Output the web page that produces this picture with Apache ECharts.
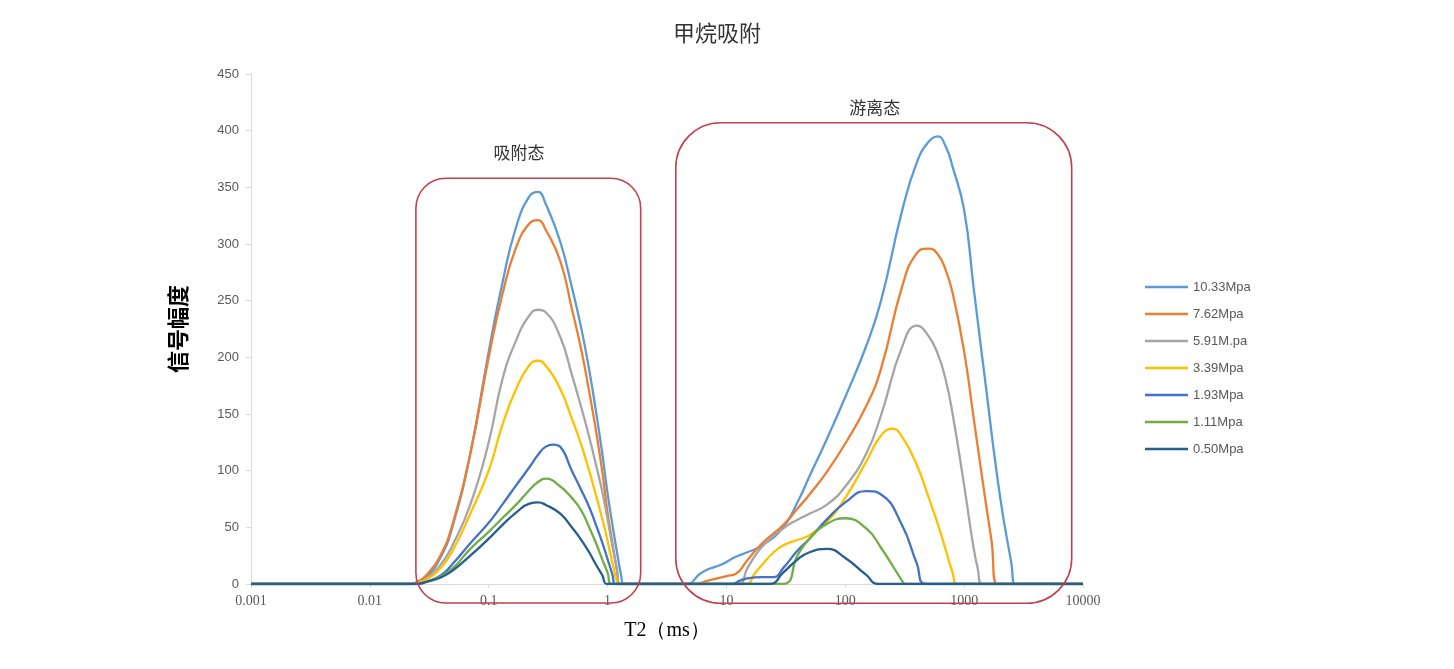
<!DOCTYPE html>
<html>
<head>
<meta charset="utf-8" />
<title>甲烷吸附</title>
<script src="https://cdn.jsdelivr.net/npm/echarts@6/dist/echarts.min.js"></script>
<style>
  html, body { margin: 0; padding: 0; background: #fff; }
  #chart { width: 1454px; height: 669px; }
</style>
</head>
<body>
<div id="chart"></div>
<script>
  // 图例名称（压力）
  const pressures = ['10.33Mpa', '7.62Mpa', '5.91M.pa', '3.39Mpa', '1.93Mpa', '1.11Mpa', '0.50Mpa'];
  const colors = ['#5B9BD5', '#ED7D31', '#A5A5A5', '#FFC000', '#4472C4', '#70AD47', '#255E91'];

  // 横轴刻度
  const xTicks = [0.001, 0.01, 0.1, 1, 10, 100, 1000, 10000];

  // 各压力下的 T2 谱 [T2(ms), 信号幅度]
  const p1033 = [
    [0.001, 0], [0.022, 0], [0.025, 1], [0.03, 6], [0.04, 25], [0.05, 52], [0.07, 115], [0.1, 205],
    [0.13, 265], [0.17, 315], [0.22, 342], [0.26, 346], [0.3, 336], [0.4, 302], [0.5, 262],
    [0.6, 226], [0.7, 189], [0.8, 152], [0.9, 116], [1.0, 80], [1.1, 52], [1.2, 28], [1.3, 8],
    [1.37, 0], [4.6, 0], [6, 9], [7, 13], [9, 17], [12, 24], [15, 28], [20, 34], [30, 50],
    [40, 73], [50, 95], [70, 128], [100, 165], [150, 210], [200, 250], [300, 329], [400, 372],
    [500, 390], [600, 395], [700, 386], [800, 368], [1000, 330], [1200, 262], [1500, 180],
    [2000, 78], [2500, 18], [2700, 0], [10000, 0]
  ];
  const p762 = [
    [0.001, 0], [0.021, 0], [0.025, 2], [0.03, 8], [0.04, 27], [0.05, 54], [0.07, 115], [0.1, 200],
    [0.13, 255], [0.17, 297], [0.22, 318], [0.26, 321], [0.3, 313], [0.4, 285], [0.5, 243],
    [0.6, 207], [0.7, 170], [0.8, 135], [0.9, 100], [1.0, 63], [1.1, 36], [1.2, 12], [1.27, 0],
    [5.3, 0], [7, 3], [10, 7], [12, 9], [15, 21], [20, 36], [30, 52], [40, 67], [50, 79],
    [70, 99], [100, 124], [150, 157], [200, 190], [300, 262], [400, 292], [500, 296], [600, 291],
    [700, 277], [800, 257], [1000, 205], [1200, 147], [1500, 76], [1700, 38], [1900, 0], [10000, 0]
  ];
  const p591 = [
    [0.001, 0], [0.022, 0], [0.025, 1], [0.03, 5], [0.04, 18], [0.05, 35], [0.07, 70], [0.1, 125],
    [0.13, 180], [0.17, 215], [0.22, 237], [0.26, 242], [0.3, 240], [0.4, 218], [0.5, 185],
    [0.6, 156], [0.7, 130], [0.8, 105], [0.9, 82], [1.0, 57], [1.1, 33], [1.2, 12], [1.24, 0],
    [12.5, 0], [15, 14], [20, 33], [30, 49], [40, 57], [50, 62], [70, 70], [100, 86], [150, 115],
    [200, 149], [300, 209], [400, 228], [500, 219], [600, 203], [700, 180], [800, 150],
    [1000, 87], [1200, 32], [1300, 14], [1420, 0], [10000, 0]
  ];
  const p339 = [
    [0.001, 0], [0.022, 0], [0.025, 1], [0.03, 4], [0.04, 15], [0.05, 30], [0.07, 62], [0.1, 100],
    [0.13, 140], [0.17, 172], [0.22, 193], [0.26, 197], [0.3, 193], [0.4, 172], [0.5, 146],
    [0.6, 123], [0.7, 100], [0.8, 78], [0.9, 58], [1.0, 38], [1.1, 18], [1.2, 2], [1.22, 0],
    [14.5, 0], [17.5, 10], [20, 17], [25, 28], [30, 34], [40, 39], [50, 43], [70, 55], [100, 76],
    [150, 108], [200, 131], [250, 137], [300, 130], [400, 105], [500, 77], [600, 53], [700, 30],
    [800, 10], [880, 0], [10000, 0]
  ];
  const p193 = [
    [0.001, 0], [0.025, 0], [0.03, 2], [0.04, 8], [0.05, 18], [0.07, 36], [0.1, 54], [0.13, 70],
    [0.17, 87], [0.22, 103], [0.26, 114], [0.3, 121], [0.35, 123], [0.4, 121], [0.5, 100],
    [0.6, 83], [0.7, 68], [0.8, 52], [0.9, 37], [1.0, 22], [1.1, 8], [1.16, 0],
    [11, 0], [13, 3], [15, 5], [20, 6], [25, 6], [30, 14], [40, 30], [50, 40], [70, 57],
    [100, 72], [150, 82], [200, 79], [300, 52], [400, 18], [480, 0], [10000, 0]
  ];
  const p111 = [
    [0.001, 0], [0.025, 0], [0.03, 2], [0.04, 7], [0.05, 14], [0.07, 31], [0.1, 46], [0.13, 58],
    [0.17, 70], [0.22, 83], [0.26, 90], [0.3, 93], [0.4, 86], [0.5, 76], [0.6, 65], [0.7, 50],
    [0.8, 36], [0.9, 22], [1.0, 10], [1.08, 0],
    [29, 0], [40, 26], [50, 40], [70, 53], [100, 58], [150, 49], [200, 32], [300, 3], [320, 0],
    [10000, 0]
  ];
  const p050 = [
    [0.001, 0], [0.025, 0], [0.03, 2], [0.04, 6], [0.05, 12], [0.07, 25], [0.1, 40], [0.13, 52],
    [0.17, 63], [0.22, 71], [0.26, 72], [0.3, 70], [0.4, 62], [0.5, 50], [0.6, 39], [0.7, 28],
    [0.8, 17], [0.9, 8], [1.0, 0],
    [23, 0], [30, 10], [40, 22], [50, 28], [70, 31], [100, 23], [150, 8], [190, 0], [10000, 0]
  ];
  const spectra = [p1033, p762, p591, p339, p193, p111, p050];

  // 标注框（数据坐标）
  const zones = [
    { x: [0.0244, 1.9], y: [-16.8, 358], r: 30, text: '吸附态', tx: 0.18, ty: 381 },
    { x: [3.75, 8035], y: [-17, 407], r: 45, text: '游离态', tx: 177, ty: 420 }
  ];

  const chart = echarts.init(document.getElementById('chart'));

  const option = {
    animation: false,
    backgroundColor: '#fff',
    color: colors,
    title: {
      text: '甲烷吸附',
      left: 712,
      top: 17,
      textAlign: 'center',
      textStyle: { fontFamily: 'Noto Sans CJK SC', fontSize: 22, fontWeight: 'normal', color: '#333' }
    },
    legend: {
      orient: 'vertical',
      left: 1140,
      top: 275,
      icon: 'rect',
      itemWidth: 43,
      itemHeight: 2.3,
      itemGap: 13,
      data: pressures,
      textStyle: { fontFamily: 'Liberation Sans', fontSize: 13, color: '#595959', lineHeight: 14, height: 14 }
    },
    grid: { left: 251, right: 371, top: 74, bottom: 85 },
    xAxis: {
      type: 'log',
      logBase: 10,
      min: xTicks[0],
      max: xTicks[xTicks.length - 1],
      name: 'T2（ms）',
      nameLocation: 'middle',
      nameGap: 37,
      nameTextStyle: { fontFamily: 'Liberation Serif', fontSize: 20, color: '#000' },
      axisLine: { lineStyle: { color: '#D9D9D9', width: 1 } },
      axisTick: { show: true, length: 4, lineStyle: { color: '#D9D9D9' } },
      axisLabel: {
        margin: 10,
        fontFamily: 'Liberation Serif',
        fontSize: 14,
        color: '#595959',
        formatter: v => String(+Number(v).toPrecision(1))
      },
      splitLine: { show: false },
      minorTick: { show: false }
    },
    yAxis: {
      type: 'value',
      min: 0,
      max: 450,
      interval: 50,
      name: '信号幅度',
      nameLocation: 'middle',
      nameRotate: 90,
      nameGap: 62,
      nameTextStyle: { fontFamily: 'Noto Sans CJK SC', fontSize: 22, fontWeight: 'bold', color: '#000' },
      axisLine: { show: true, lineStyle: { color: '#D9D9D9', width: 1 } },
      axisTick: { show: true, length: 5, lineStyle: { color: '#D9D9D9' } },
      axisLabel: { margin: 12, fontFamily: 'Liberation Sans', fontSize: 13, color: '#595959' },
      splitLine: { show: false }
    },
    series: pressures.map((name, i) => ({
      name: name,
      type: 'line',
      data: spectra[i],
      smooth: 0.5,
      showSymbol: false,
      symbol: 'none',
      lineStyle: { width: 2.3, color: colors[i] },
      itemStyle: { color: colors[i] }
    }))
  };

  chart.setOption(option);

  // 圆角标注框与文字
  const graphics = [];
  zones.forEach(z => {
    const p0 = chart.convertToPixel({ gridIndex: 0 }, [z.x[0], z.y[1]]);
    const p1 = chart.convertToPixel({ gridIndex: 0 }, [z.x[1], z.y[0]]);
    graphics.push({
      type: 'rect',
      z: 100,
      shape: { x: p0[0], y: p0[1], width: p1[0] - p0[0], height: p1[1] - p0[1], r: z.r },
      style: { fill: 'none', stroke: '#C0424E', lineWidth: 1.6 }
    });
    const t = chart.convertToPixel({ gridIndex: 0 }, [z.tx, z.ty]);
    graphics.push({
      type: 'text',
      z: 100,
      x: t[0],
      y: t[1],
      style: {
        text: z.text,
        fontFamily: 'Noto Sans CJK SC',
        fontSize: 17,
        fill: '#333',
        align: 'center',
        verticalAlign: 'middle'
      }
    });
  });
  chart.setOption({ graphic: graphics });
</script>
</body>
</html>
